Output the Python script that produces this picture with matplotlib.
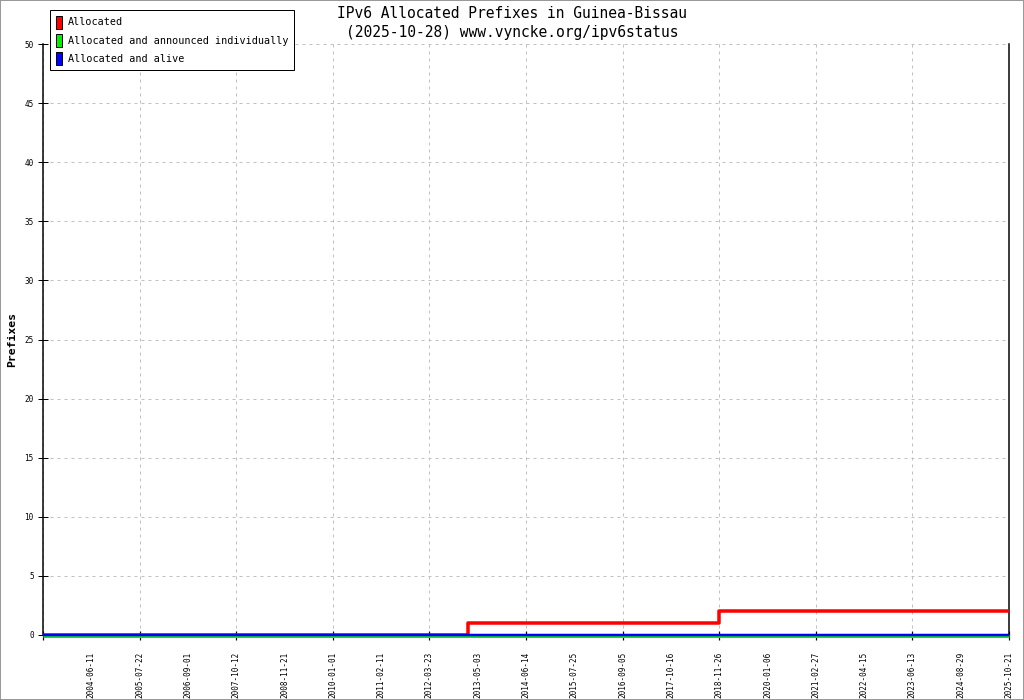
import numpy as np
import pandas as pd
import matplotlib
matplotlib.use('Agg')
import matplotlib.pyplot as plt
import matplotlib.transforms as mtransforms
from matplotlib.patches import Patch

# Tick labels along the x axis (evenly spaced in the original chart)
label_dates = ['2004-06-11', '2005-07-22', '2006-09-01', '2007-10-12', '2008-11-21',
               '2010-01-01', '2011-02-11', '2012-03-23', '2013-05-03', '2014-06-14',
               '2015-07-25', '2016-09-05', '2017-10-16', '2018-11-26', '2020-01-06',
               '2021-02-27', '2022-04-15', '2023-06-13', '2024-08-29', '2025-10-21']
start_date = '2003-05-02'

# Series (step data)
allocated_dates = ['2003-05-02', '2013-02-10', '2018-11-26', '2025-10-21']
allocated_values = [0, 1, 2, 2]
announced_dates = ['2003-05-02', '2025-10-21']
announced_values = [0, 0]
alive_dates = ['2003-05-02', '2025-10-21']
alive_values = [0, 0]

y_ticks = list(range(0, 51, 5))

MONO = 'DejaVu Sans Mono'
plt.rcParams['font.family'] = MONO

W, H = 1024, 700
DPI = 100
PX = 72.0 / DPI   # points per pixel

anchor_dates = pd.to_datetime([start_date] + label_dates).map(pd.Timestamp.toordinal)
anchor_pos = np.arange(-1, len(label_dates))


def to_x(dates):
    ords = pd.to_datetime(dates).map(pd.Timestamp.toordinal)
    return np.interp(np.asarray(ords, dtype=float), anchor_dates, anchor_pos)


fig = plt.figure(figsize=(W / DPI, H / DPI), dpi=DPI)
fig.patch.set_facecolor('white')
fig.patch.set_edgecolor('#999999')
fig.patch.set_linewidth(2 * PX)

left, right, top, bottom = 43, 1009, 44, 635
ax = fig.add_axes([left / W, 1 - bottom / H, (right - left) / W, (bottom - top) / H])

ax.set_xlim(-1, len(label_dates) - 1)
ax.set_ylim(0, 50)

# red underneath, then green, blue nudged up a pixel on top
ax.step(to_x(allocated_dates), allocated_values, where='post', color='#ff0000',
        lw=3.5 * PX, zorder=3, solid_capstyle='butt', clip_on=False)
down = mtransforms.offset_copy(ax.transData, fig=fig, x=0, y=-0.5, units='dots')
ax.step(to_x(announced_dates), announced_values, where='post', color='#00ee00',
        lw=3 * PX, zorder=4, transform=down, solid_capstyle='butt', clip_on=False)
up = mtransforms.offset_copy(ax.transData, fig=fig, x=0, y=0.5, units='dots')
ax.step(to_x(alive_dates), alive_values, where='post', color='#0000ff',
        lw=2.5 * PX, zorder=5, transform=up, solid_capstyle='butt', clip_on=False)

# spines
ax.spines['top'].set_visible(False)
ax.spines['bottom'].set_visible(False)
for s in ['left', 'right']:
    ax.spines[s].set_linewidth(1.5 * PX)
    ax.spines[s].set_color('black')

# y axis
ax.set_yticks(y_ticks)
ax.set_yticklabels([str(v) for v in y_ticks])
ax.tick_params(axis='y', direction='inout', length=10 * PX, width=1 * PX,
               labelsize=5.5, pad=3, right=False)

# x axis: labels on every position, tick marks + grid on every other one
ax.xaxis.remove_overlapping_locs = False
ax.set_xticks(np.arange(len(label_dates)))
ax.set_xticklabels(label_dates, rotation=90, va='top', ha='center')
ax.tick_params(axis='x', which='major', length=0, labelsize=5.5, pad=12)
ax.set_xticks(np.arange(-1, len(label_dates), 2), minor=True)
ax.tick_params(axis='x', which='minor', direction='inout', length=9 * PX, width=1.2 * PX)

ax.grid(True, axis='y', which='major', color='#c0c0c0', ls=(0, (3, 4)), lw=1 * PX)
ax.grid(True, axis='x', which='minor', color='#c0c0c0', ls=(0, (3, 4)), lw=1 * PX)
ax.set_axisbelow(True)

ax.set_ylabel('Prefixes', fontsize=8.2, fontweight='bold')
ax.yaxis.set_label_coords(-26 / (right - left), 0.5)

fig.text(0.5, 1 - 13 / H, 'IPv6 Allocated Prefixes in Guinea-Bissau',
         ha='center', va='center', fontsize=10.5)
fig.text(0.5, 1 - 32 / H, '(2025-10-28) www.vyncke.org/ipv6status',
         ha='center', va='center', fontsize=10.5)

handles = [Patch(facecolor='#ff0000', edgecolor='black', lw=0.7),
           Patch(facecolor='#00ee00', edgecolor='black', lw=0.7),
           Patch(facecolor='#0000ff', edgecolor='black', lw=0.7)]
labels = ['Allocated', 'Allocated and announced individually', 'Allocated and alive']
leg = fig.legend(handles, labels, loc='upper left',
                 bbox_to_anchor=(50 / W, 1 - 10 / H), borderaxespad=0,
                 fancybox=False, framealpha=1, edgecolor='black',
                 fontsize=7.3, handlelength=0.65, handleheight=1.6,
                 handletextpad=0.55, labelspacing=0.5, borderpad=0.55)
leg.get_frame().set_linewidth(1 * PX)

fig.savefig('out.png', dpi=DPI)
